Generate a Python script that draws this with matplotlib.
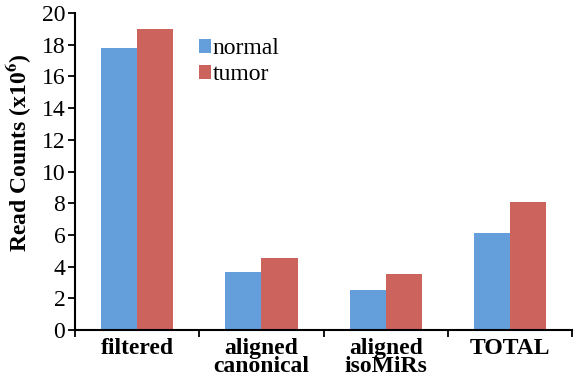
import numpy as np
import matplotlib
matplotlib.use("Agg")
import matplotlib.pyplot as plt

categories = ["filtered", "aligned\ncanonical", "aligned\nisoMiRs", "TOTAL"]
normal = [17.77, 3.64, 2.52, 6.10]
tumor = [18.97, 4.52, 3.53, 8.09]

plt.rcParams['font.family'] = ['Liberation Serif', 'DejaVu Serif']
plt.rcParams['mathtext.fontset'] = 'stix'

fig = plt.figure(figsize=(5.79, 3.85), dpi=100)
ax = fig.add_axes([0.1295, 0.143, 0.859, 0.823])

x = np.arange(len(categories))
w = 0.29
ax.bar(x - w / 2, normal, w, color='#659FDB', label='normal')
ax.bar(x + w / 2, tumor, w, color='#CD635D', label='tumor')

ax.set_xlim(-0.5, len(categories) - 0.5)
ax.set_ylim(0, 20)
ax.set_yticks(range(0, 21, 2))
ax.tick_params(axis='y', labelsize=17, width=1.3, length=5, direction='out', pad=2)

# ticks between categories
ax.set_xticks(np.arange(-0.5, len(categories), 1))
ax.set_xticklabels([])
ax.set_xticks(x, minor=True)
ax.set_xticklabels(categories, minor=True, fontsize=17, fontweight='bold',
                   linespacing=0.8)
ax.tick_params(axis='x', which='major', width=1.3, length=5)
ax.tick_params(axis='x', which='minor', length=0, pad=6)

for s in ['top', 'right']:
    ax.spines[s].set_visible(False)
for s in ['left', 'bottom']:
    ax.spines[s].set_linewidth(1.5)

ax.set_ylabel(r'Read Counts (x10$^{\mathbf{6}}$)', fontsize=17, fontweight='bold')
ax.yaxis.set_label_coords(-0.082, 0.56)

ax.legend(loc='upper left', bbox_to_anchor=(0.25, 0.92), frameon=False,
          fontsize=17, handlelength=0.5, handleheight=0.5, handletextpad=0.05,
          labelspacing=0.2, borderpad=0, borderaxespad=0)

fig.savefig('out.png', dpi=100)
